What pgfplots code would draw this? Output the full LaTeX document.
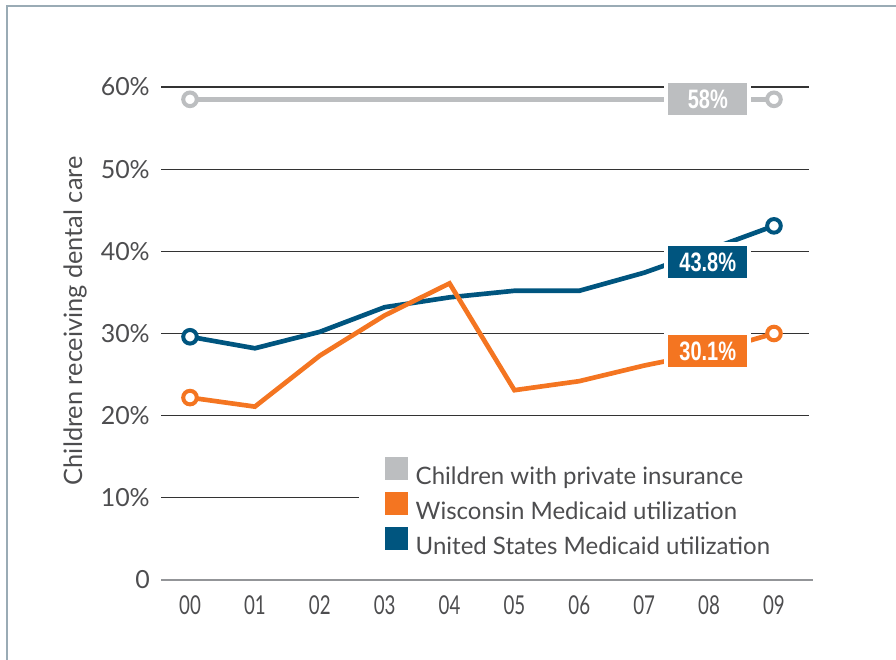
\documentclass[border=0pt]{standalone}
\usepackage{pgfplots}
\pgfplotsset{compat=1.18}
\usepackage{graphicx}
\usepackage{fontspec}
\setmainfont{Lato}
\newfontfamily\lblfont{Liberation Sans}
\definecolor{txt}{HTML}{4D4D4F}
\definecolor{grayc}{HTML}{BCBEC0}
\definecolor{orangec}{HTML}{F47521}
\definecolor{bluec}{HTML}{00557F}
\definecolor{gridc}{HTML}{333333}
\definecolor{axisc}{HTML}{939598}
\definecolor{framec}{HTML}{9AABB5}
\newcommand{\xl}[1]{\scalebox{0.72}[1]{#1}}
\newcommand{\lb}[1]{{\lblfont\bfseries\fontsize{20}{22}\selectfont\scalebox{0.75}[1]{#1}}}
\begin{document}
\begin{tikzpicture}
\useasboundingbox (0,0) rectangle (672pt,495pt);
\draw[framec, line width=1pt] (5.25pt,-5pt) -- (5.25pt,490.5pt) -- (680pt,490.5pt);
\begin{axis}[
  at={(120.75pt,60pt)}, anchor=south west,
  width=486pt, height=369.75pt, scale only axis,
  xmin=-0.447, xmax=9.54, ymin=0, ymax=60,
  clip=false,
  axis line style={draw=none},
  major tick style={draw=none},
  ytick={0,10,20,30,40,50,60},
  yticklabels={0,10\%,20\%,30\%,40\%,50\%,60\%},
  ymajorgrids, grid style={draw=gridc, line width=0.8pt},
  xtick={0,1,2,3,4,5,6,7,8,9},
  xticklabels={\xl{00},\xl{01},\xl{02},\xl{03},\xl{04},\xl{05},\xl{06},\xl{07},\xl{08},\xl{09}},
  yticklabel style={font=\fontsize{18.7}{20}\selectfont, text=txt, inner sep=0pt, anchor=east, xshift=-8.25pt},
  xticklabel style={font=\fontsize{19.5}{22}\selectfont, text=txt, inner sep=0pt, anchor=north, yshift=-11.25pt},
  ylabel={Children receiving dental care},
  ylabel style={at={(axis description cs:-0.1327,0.526)}, anchor=center, font=\fontsize{19}{22}\selectfont, text=txt},
  legend style={at={(0.307,0.2677)}, anchor=north west, draw=none, fill=white,
    font=\fontsize{18}{21}\selectfont, text=txt, inner xsep=18.75pt, inner ysep=6.5pt,
    row sep=1.9pt, nodes={inner sep=0pt, text height=12.5pt, text depth=3.5pt},
    /tikz/every odd column/.append style={column sep=6pt}},
  legend cell align=left,
]
\fill[white] (axis cs:2.6,5) rectangle (axis cs:9.6,15);
\draw[axisc, line width=1.5pt] (axis cs:-0.447,0) -- (axis cs:9.6,0);
\addplot[forget plot, grayc, line width=3.5pt, mark=*, mark indices={1,10}, mark size=5.1pt,
  mark options={fill=white, line width=3pt}] coordinates {
  (0,58.5) (1,58.5) (2,58.5) (3,58.5) (4,58.5) (5,58.5) (6,58.5) (7,58.5) (8,58.5) (9,58.5)};
\addplot[forget plot, bluec, line width=3.5pt, mark=*, mark indices={1,10}, mark size=5.1pt,
  mark options={fill=white, line width=3pt}] coordinates {
  (0,29.6) (1,28.2) (2,30.2) (3,33.2) (4,34.4) (5,35.2) (6,35.2) (7,37.4) (8,40.2) (9,43.1)};
\addplot[forget plot, orangec, line width=3.5pt, mark=*, mark indices={1,10}, mark size=5.1pt,
  mark options={fill=white, line width=3pt}] coordinates {
  (0,22.2) (1,21.1) (2,27.3) (3,32.2) (4,36.1) (5,23.1) (6,24.2) (7,26.1) (8,27.7) (9,30.0)};
\addlegendimage{legend image code/.code={\fill[grayc] (0pt,-0.5pt) rectangle (16.5pt,16pt);}}
\addlegendentry{Children with private insurance}
\addlegendimage{legend image code/.code={\fill[orangec] (0pt,-0.5pt) rectangle (16.5pt,16pt);}}
\addlegendentry{Wisconsin Medicaid utilization}
\addlegendimage{legend image code/.code={\fill[bluec] (0pt,-0.5pt) rectangle (16.5pt,16pt);}}
\addlegendentry{United States Medicaid utilization}
\node[fill=grayc, draw=white, line width=3pt, minimum width=62.25pt, minimum height=27pt, inner sep=0pt, text=white] at (axis cs:7.98,58.55) {\lb{58\%}};
\node[fill=bluec, draw=white, line width=3pt, minimum width=62.25pt, minimum height=27pt, inner sep=0pt, text=white] at (axis cs:7.98,38.7) {\lb{43.8\%}};
\node[fill=orangec, draw=white, line width=3pt, minimum width=62.25pt, minimum height=27pt, inner sep=0pt, text=white] at (axis cs:7.98,27.87) {\lb{30.1\%}};
\end{axis}
\end{tikzpicture}
\end{document}
